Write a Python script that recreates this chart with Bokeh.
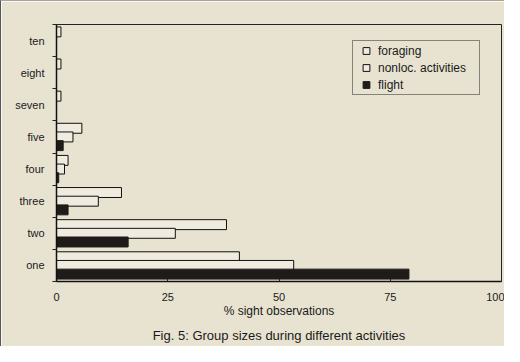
from bokeh.plotting import figure
from bokeh.models import ColumnDataSource, FixedTicker, Legend, LegendItem, Title
from bokeh.transform import dodge
from bokeh.embed import file_html
from bokeh.resources import INLINE

categories = ["one", "two", "three", "four", "five", "seven", "eight", "ten"]
foraging = [41.1, 38.2, 14.6, 2.6, 5.7, 1.0, 1.0, 1.0]
nonloc = [53.3, 26.7, 9.4, 1.8, 3.7, 0.0, 0.0, 0.0]
flight = [79.2, 16.1, 2.6, 0.5, 1.5, 0.0, 0.0, 0.0]
x_ticks = [0, 25, 50, 75, 100]
series_labels = ["foraging", "nonloc. activities", "flight"]
caption_text = "Fig. 5: Group sizes during different activities"

BG = "#e8e3d1"
BAR = "#efebdf"
DARK = "#1e1b18"
FONT = "Liberation Sans"

ypos = [i + 0.5 for i in range(len(categories))]
src = ColumnDataSource(dict(y=ypos, cat=categories, foraging=foraging, nonloc=nonloc, flight=flight))

p = figure(width=504, height=346, output_backend="svg", toolbar_location=None,
           x_range=(0, 100), y_range=(0, len(categories)),
           min_border_left=55, min_border_right=4, min_border_top=23, min_border_bottom=63)
p.styles = {"border-left": "1px solid #555555", "border-top": "1px solid #a8a498"}
p.background_fill_color = BG
p.border_fill_color = BG
p.outline_line_color = "#222222"
p.outline_line_width = 1
p.grid.visible = False

h = 0.31
p.hbar(y=dodge("y", 0.27), right="foraging", left=0, height=h, source=src,
       fill_color=BAR, line_color="#111111", line_width=1)
p.hbar(y=dodge("y", 0.0), right="nonloc", left=0, height=h, source=src,
       fill_color=BAR, line_color="#111111", line_width=1)
p.hbar(y=dodge("y", -0.27), right="flight", left=0, height=h, source=src,
       fill_color=DARK, line_color=DARK, line_width=1)

# zero-size square markers used only for the legend swatches
m1 = p.scatter(x="foraging", y=dodge("y", 0.27), source=src, marker="square", size=0,
               fill_color=BAR, line_color="#111111", level="underlay")
m2 = p.scatter(x="nonloc", y="y", source=src, marker="square", size=0,
               fill_color=BAR, line_color="#111111", level="underlay")
m3 = p.scatter(x="flight", y=dodge("y", -0.27), source=src, marker="square", size=0,
               fill_color=DARK, line_color=DARK, level="underlay")

# axes
p.xaxis.ticker = FixedTicker(ticks=x_ticks)
p.xaxis.major_tick_in = 3
p.xaxis.major_tick_out = 0
p.xaxis.minor_tick_line_color = None
p.xaxis.major_label_standoff = 11
p.xaxis.major_tick_line_color = "#222222"
p.xaxis.axis_label = "% sight observations"
p.xaxis.axis_label_standoff = 0
p.xaxis.axis_label_text_font = FONT
p.xaxis.axis_label_text_font_style = "normal"
p.xaxis.axis_label_text_font_size = "12px"
p.xaxis.axis_label_text_color = "#1a1a1a"

p.yaxis.ticker = FixedTicker(ticks=ypos, minor_ticks=list(range(len(categories) + 1)))
p.yaxis.major_label_overrides = {y: c for y, c in zip(ypos, categories)}
p.yaxis.major_tick_line_color = None
p.yaxis.minor_tick_out = 4
p.yaxis.minor_tick_in = 0
p.yaxis.minor_tick_line_color = "#222222"
p.yaxis.major_label_standoff = 6

for ax in (p.xaxis, p.yaxis):
    ax.axis_line_color = "#111111"
    ax.axis_line_width = 1.5
    ax.major_label_text_font = FONT
    ax.major_label_text_font_size = "11px"
    ax.major_label_text_color = "#1a1a1a"

legend = Legend(items=[LegendItem(label=series_labels[0], renderers=[m1]),
                       LegendItem(label=series_labels[1], renderers=[m2]),
                       LegendItem(label=series_labels[2], renderers=[m3])],
                location=(296, 186))
legend.margin = 0
legend.padding = 1
legend.spacing = 0
legend.glyph_width = 24
legend.glyph_height = 17
legend.label_height = 16
legend.label_width = 100
legend.label_standoff = 0
legend.label_text_font = FONT
legend.label_text_font_size = "12px"
legend.label_text_color = "#1a1a1a"
legend.background_fill_color = BG
legend.background_fill_alpha = 1
legend.border_line_color = "#222222"
legend.border_line_width = 1
p.add_layout(legend)

caption = Title(text=caption_text, align="center", text_font=FONT,
                text_font_size="13px", text_font_style="normal", text_color="#1a1a1a",
                standoff=10)
p.add_layout(caption, "below")

open("out.html", "w").write(file_html(p, INLINE))
